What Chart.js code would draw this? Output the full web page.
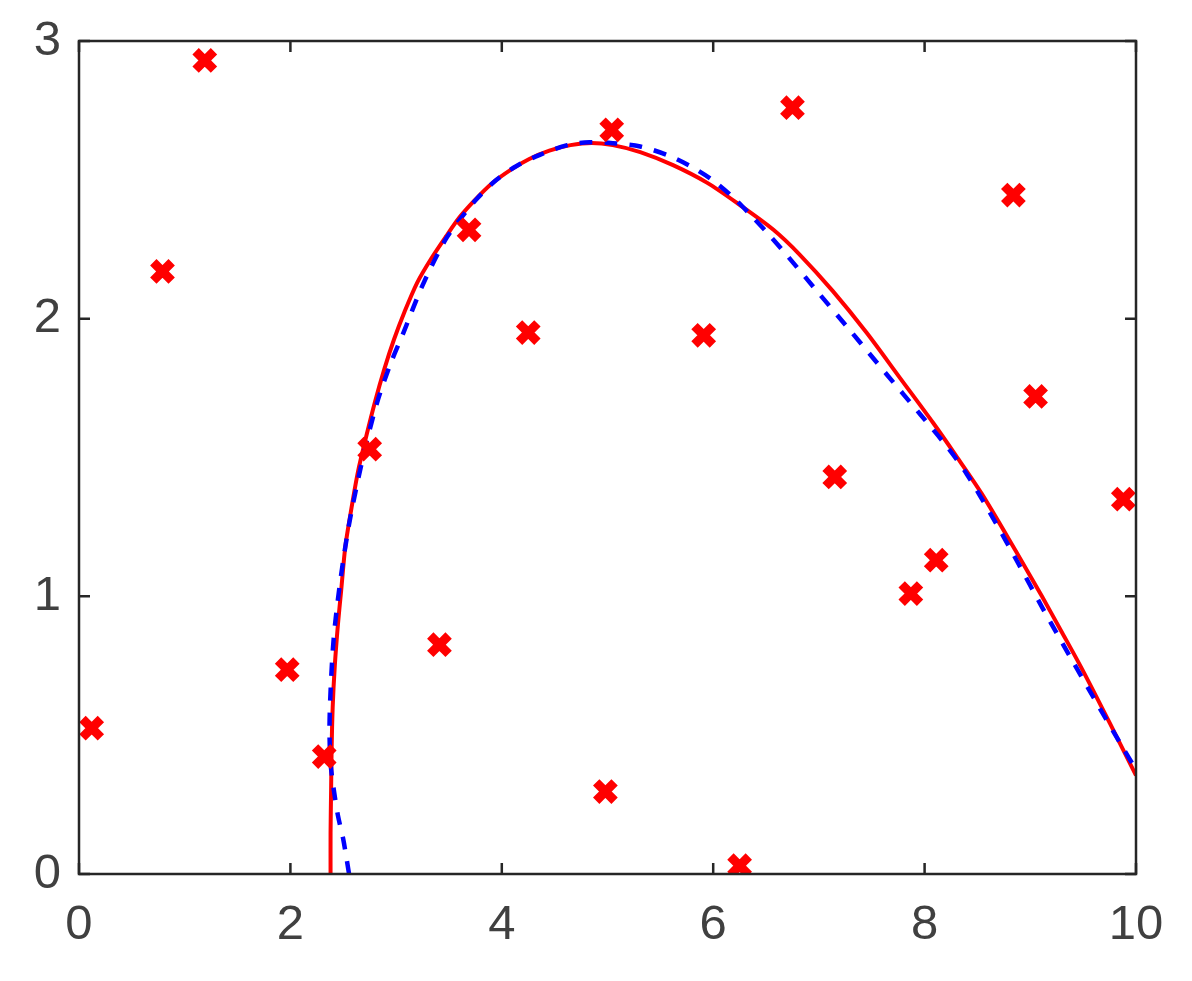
<!DOCTYPE html>
<html>
<head>
<meta charset="utf-8">
<script src="https://cdn.jsdelivr.net/npm/chart.js@4/dist/chart.umd.min.js"></script>
<style>
html,body{margin:0;padding:0;background:#fff;}
#wrap{width:1192px;height:981px;}
</style>
</head>
<body>
<div id="wrap"><canvas id="c" width="1192" height="981"></canvas></div>
<script>
// Scatter data (red crosses)
const pointX = [0.12,0.79,1.19,1.97,2.32,2.75,3.41,3.69,4.25,4.98,5.04,5.91,6.25,6.75,7.15,7.87,8.11,8.84,9.05,9.88];
const pointY = [0.525,2.17,2.93,0.736,0.423,1.53,0.826,2.32,1.95,0.297,2.68,1.94,0.03,2.76,1.43,1.01,1.13,2.445,1.72,1.35];

// Red solid curve
const redX = [2.38,2.38,2.385,2.39,2.40,2.42,2.45,2.48,2.52,2.57,2.64,2.72,2.80,2.89,2.98,3.08,3.20,3.33,3.47,3.60,3.74,3.90,4.08,4.26,4.45,4.65,4.85,5.05,5.31,5.62,5.94,6.25,6.57,6.82,7.13,7.45,7.77,8.08,8.30,8.54,8.86,9.11,9.30,9.49,9.75,10.0];
const redY = [0.0,0.15,0.30,0.45,0.60,0.75,0.90,1.02,1.18,1.30,1.45,1.58,1.70,1.82,1.925,2.025,2.13,2.215,2.295,2.365,2.425,2.485,2.535,2.575,2.605,2.625,2.633,2.625,2.60,2.553,2.49,2.41,2.32,2.23,2.10,1.95,1.785,1.625,1.505,1.37,1.165,1.0,0.87,0.738,0.545,0.355];

// Blue dashed curve
const blueX = [2.555,2.50,2.45,2.41,2.38,2.37,2.385,2.41,2.45,2.50,2.56,2.64,2.73,2.83,2.95,3.07,3.25,3.46,3.60,3.76,3.95,4.14,4.36,4.62,4.83,5.05,5.31,5.56,5.78,5.99,6.18,6.35,6.51,6.66,6.98,7.29,7.64,7.96,8.21,8.40,8.65,8.87,9.12,9.38,9.63,9.86,10.0];
const blueY = [0.0,0.125,0.21,0.305,0.40,0.53,0.70,0.85,0.99,1.13,1.27,1.42,1.57,1.71,1.84,1.95,2.12,2.28,2.355,2.43,2.50,2.55,2.59,2.625,2.635,2.632,2.62,2.59,2.55,2.50,2.44,2.375,2.31,2.245,2.10,1.96,1.80,1.655,1.54,1.44,1.28,1.13,0.955,0.78,0.615,0.465,0.375];

// Axis ticks
const xTicks = [0,2,4,6,8,10];
const yTicks = [0,1,2,3];

const zip = (xs, ys) => xs.map((x, i) => ({x: x, y: ys[i]}));

const frameColor = '#262626';
const labelColor = '#404040';

const framePlugin = {
  id: 'frame',
  afterDraw(chart) {
    const ctx = chart.ctx;
    const a = chart.chartArea;
    const sx = chart.scales.x, sy = chart.scales.y;
    ctx.save();
    ctx.strokeStyle = frameColor;
    ctx.lineWidth = 2.5;
    ctx.strokeRect(a.left, a.top, a.right - a.left, a.bottom - a.top);
    ctx.beginPath();
    const L = 11;
    xTicks.forEach(v => {
      const p = sx.getPixelForValue(v);
      ctx.moveTo(p, a.bottom); ctx.lineTo(p, a.bottom - L);
      ctx.moveTo(p, a.top); ctx.lineTo(p, a.top + L);
    });
    yTicks.forEach(v => {
      const p = sy.getPixelForValue(v);
      ctx.moveTo(a.left, p); ctx.lineTo(a.left + L, p);
      ctx.moveTo(a.right, p); ctx.lineTo(a.right - L, p);
    });
    ctx.stroke();
    ctx.restore();
  }
};

new Chart(document.getElementById('c'), {
  type: 'scatter',
  data: {
    datasets: [
      {
        label: 'points',
        data: zip(pointX, pointY),
        showLine: false,
        pointStyle: 'crossRot',
        pointRadius: 13,
        pointHoverRadius: 13,
        pointBorderColor: '#ff0000',
        pointBackgroundColor: '#ff0000',
        pointBorderWidth: 9,
        pointHoverBorderWidth: 9,
        borderColor: '#ff0000',
        backgroundColor: '#ff0000',
        order: 0
      },
      {
        label: 'blue',
        data: zip(blueX, blueY),
        showLine: true,
        borderColor: '#0000ff',
        borderWidth: 4.5,
        borderDash: [13, 12],
        pointRadius: 0,
        tension: 0.3,
        fill: false,
        order: 1
      },
      {
        label: 'red',
        data: zip(redX, redY),
        showLine: true,
        borderColor: '#ff0000',
        borderWidth: 4,
        pointRadius: 0,
        tension: 0.3,
        fill: false,
        order: 2
      }
    ]
  },
  options: {
    responsive: false,
    animation: false,
    devicePixelRatio: 1,
    layout: { padding: { top: 41, right: 56, left: 0, bottom: 0 } },
    plugins: { legend: { display: false }, tooltip: { enabled: false } },
    scales: {
      x: {
        type: 'linear',
        min: 0, max: 10,
        afterFit: s => { s.height = 107; },
        afterBuildTicks: s => { s.ticks = xTicks.map(v => ({value: v})); },
        grid: { display: true, drawOnChartArea: false, drawTicks: false },
        border: { display: false },
        ticks: {
          padding: 22,
          color: labelColor,
          font: { family: '"Liberation Sans", Arial, sans-serif', size: 49 },
          maxRotation: 0
        }
      },
      y: {
        type: 'linear',
        min: 0, max: 3,
        afterFit: s => { s.width = 79; },
        afterBuildTicks: s => { s.ticks = yTicks.map(v => ({value: v})); },
        grid: { display: true, drawOnChartArea: false, drawTicks: false },
        border: { display: false },
        ticks: {
          padding: 18,
          color: labelColor,
          font: { family: '"Liberation Sans", Arial, sans-serif', size: 49, lineHeight: 0.5 }
        }
      }
    }
  },
  plugins: [framePlugin]
});
</script>
</body>
</html>
